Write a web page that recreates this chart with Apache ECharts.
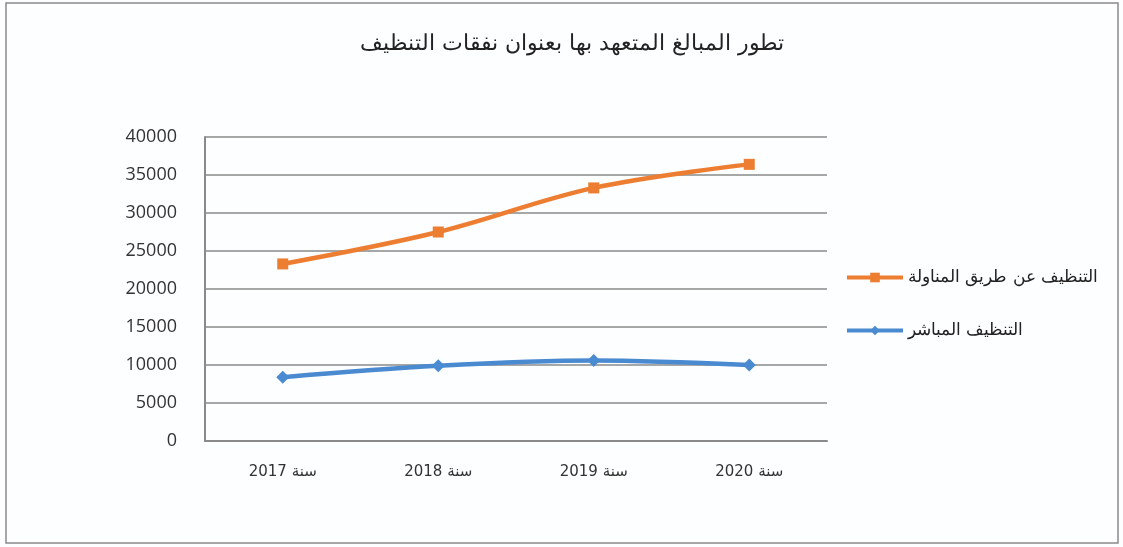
<!DOCTYPE html>
<html><head><meta charset="utf-8">
<script src="https://cdn.jsdelivr.net/npm/echarts@6/dist/echarts.min.js"></script>
<style>html,body{margin:0;padding:0;background:#fcfeff}#c{width:1123px;height:547px}</style>
</head><body><div id="c"></div>
<script>
const categories = ['سنة 2017','سنة 2018','سنة 2019','سنة 2020'];
const subcontract = [23300, 27500, 33300, 36400];
const direct = [8400, 9900, 10600, 10000];
const seriesNames = ['التنظيف عن طريق المناولة','التنظيف المباشر'];
const titleText = 'تطور المبالغ المتعهد بها بعنوان نفقات التنظيف';

const chart = echarts.init(document.getElementById('c'));
chart.setOption({
  backgroundColor: '#fcfeff',
  animation: false,
  graphic: [{type:'rect', shape:{x:6,y:3,width:1112,height:540}, style:{fill:'none', stroke:'#8a8a8a', lineWidth:1.5}, silent:true}],
  title: {text: titleText, left: 567, top: 28, textAlign:'center',
    textStyle:{fontFamily:'"DejaVu Serif", serif', fontSize:22, fontWeight:'normal', color:'#222'}},
  legend: {orient:'vertical', left: 840, top: 264, itemGap: 36, align:'left',
    itemWidth: 56, itemHeight: 12,
    lineStyle:{width:4},
    textStyle:{fontFamily:'"DejaVu Serif", serif', fontSize:17, color:'#222'},
    data: seriesNames},
  grid: {left: 205, right: 296, top: 137, bottom: 106},
  xAxis: {type:'category', data: categories, boundaryGap:true,
    axisLine:{lineStyle:{color:'#8a8a8a', width:2}}, axisTick:{show:false},
    axisLabel:{margin: 24, fontFamily:'"DejaVu Sans", sans-serif', fontSize:15, color:'#333'}},
  yAxis: {type:'value', min:0, max:40000, interval:5000,
    axisLine:{show:true, lineStyle:{color:'#8a8a8a', width:2}}, axisTick:{show:false},
    splitLine:{lineStyle:{color:'#8a8a8a', width:1.5}},
    axisLabel:{margin: 28, formatter: v => String(v), fontFamily:'"Open Sans", sans-serif', fontSize:18, color:'#333'}},
  series: [
    {name: seriesNames[0], type:'line', data: subcontract, smooth:0.35,
      symbol:'rect', symbolSize:11, itemStyle:{color:'#ed7d31'}, lineStyle:{width:4.5, color:'#ed7d31'}},
    {name: seriesNames[1], type:'line', data: direct, smooth:0.35,
      symbol:'diamond', symbolSize:13, itemStyle:{color:'#4a8ad0'}, lineStyle:{width:4.5, color:'#4a8ad0'}}
  ]
});
</script></body></html>
